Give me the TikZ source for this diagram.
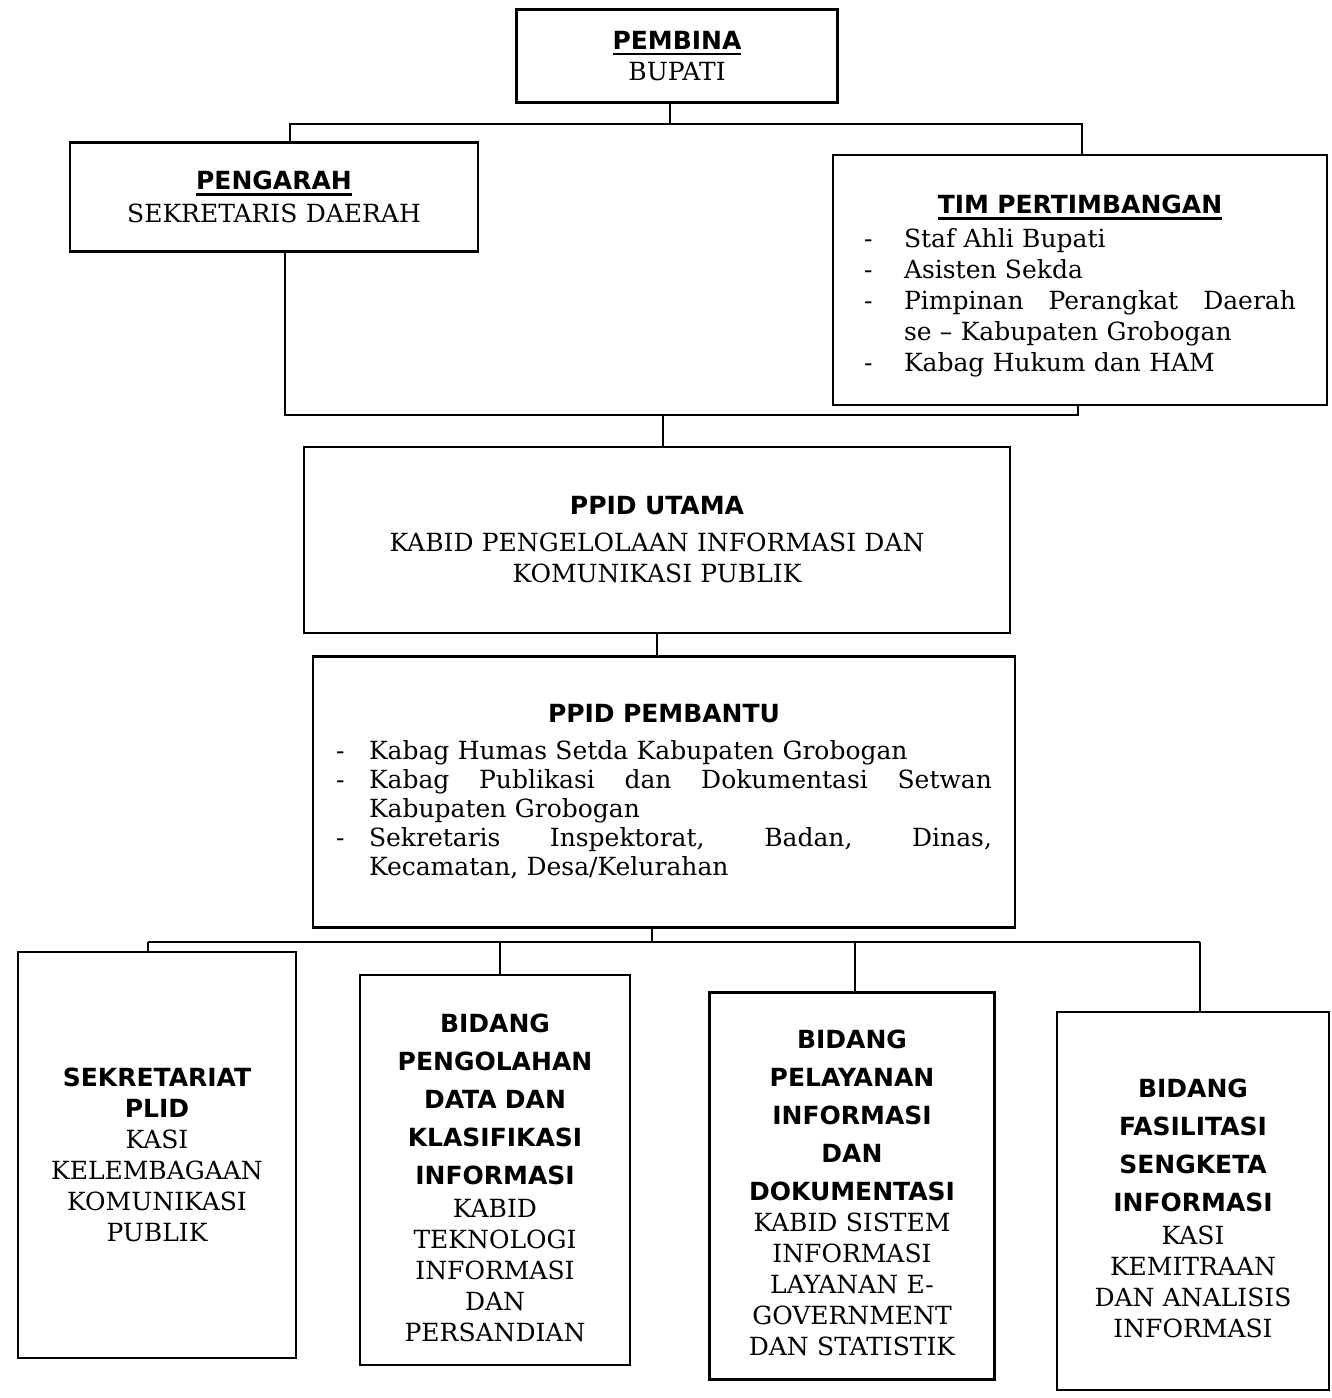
\documentclass[tikz,border=0pt]{standalone}
\usepackage{fontspec}
\setmainfont{DejaVu Serif}
\newfontfamily\hdfamily{DejaVu Sans}
\usetikzlibrary{positioning}

\newcommand{\bodyf}{\fontsize{25}{31}\selectfont}
\newcommand{\hdf}{\hdfamily\bfseries}
\newcommand{\hdl}[1]{{\hdf #1}}
\newcommand{\ulin}[1]{\setbox0=\hbox{#1}\rlap{\rule[-6pt]{\wd0}{2.8pt}}\box0}
\newcommand{\tmitem}[2][40pt]{\makebox[#1][l]{-}#2}
\newcommand{\tmcont}[2][40pt]{\hspace*{#1}#2}
\newcommand{\tmspread}[2]{\makebox[#1][s]{\spaceskip=.33em plus 1fil\xspaceskip=.33em plus 1fil #2}}

\tikzset{
  box/.style={draw, line width=2.5pt, inner sep=0pt, align=center, font=\bodyf},
  link/.style={line width=2pt}
}

\begin{document}
\begin{tikzpicture}[x=1pt, y=-1pt]
\useasboundingbox (0,0) rectangle (1332,1398);

% top levels
\node[box, minimum width=321pt, minimum height=93pt, text width=300pt] (pembina) at (677,56)
  {\hdl{\ulin{PEMBINA}}\\BUPATI};
\node[box, minimum width=408pt, minimum height=109pt, text width=390pt] (pengarah) at (274,197)
  {\hdl{\ulin{PENGARAH}}\\[2pt]SEKRETARIS DAERAH};
\node[box, align=left, minimum width=494pt, minimum height=250pt, text width=432pt] (tim) at (1080,280)
  {\rule{0pt}{31pt}\makebox[\hsize]{\hdl{\ulin{TIM PERTIMBANGAN}}}\\[3pt]
   \tmitem{Staf Ahli Bupati}\\
   \tmitem{Asisten Sekda}\\
   \tmitem{\tmspread{392pt}{Pimpinan Perangkat Daerah}}\\
   \tmcont{se – Kabupaten Grobogan}\\
   \tmitem{Kabag Hukum dan HAM}};

\node[box, minimum width=706pt, minimum height=186pt, text width=680pt] (utama) at (657,540)
  {\hdl{PPID UTAMA}\\[6pt]KABID PENGELOLAAN INFORMASI DAN\\KOMUNIKASI PUBLIK};
\node[box, align=left, minimum width=702pt, minimum height=271pt, text width=656pt,
      font=\fontsize{25}{29}\selectfont] (pembantu) at (664,792)
  {\makebox[\hsize]{\hdl{PPID PEMBANTU}}\\[8pt]
   \tmitem[33pt]{Kabag Humas Setda Kabupaten Grobogan}\\
   \tmitem[33pt]{\tmspread{623pt}{Kabag Publikasi dan Dokumentasi Setwan}}\\
   \tmcont[33pt]{Kabupaten Grobogan}\\
   \tmitem[33pt]{\tmspread{623pt}{Sekretaris Inspektorat, Badan, Dinas,}}\\
   \tmcont[33pt]{Kecamatan, Desa/Kelurahan}};

% bottom row
\node[box, minimum width=278pt, minimum height=406pt, text width=268pt] (sekret) at (157,1155)
  {\hdl{SEKRETARIAT}\\\hdl{PLID}\\KASI\\KELEMBAGAAN\\KOMUNIKASI\\PUBLIK};
\node[box, minimum width=270pt, minimum height=390pt, text width=260pt] (olah) at (495,1170)
  {\rule{0pt}{35pt}\hdl{BIDANG}\\[7pt]\hdl{PENGOLAHAN}\\[7pt]\hdl{DATA DAN}\\[7pt]\hdl{KLASIFIKASI}\\[7pt]\hdl{INFORMASI}\\[2pt]
   KABID\\TEKNOLOGI\\INFORMASI\\DAN\\PERSANDIAN};
\node[box, minimum width=285pt, minimum height=387pt, text width=275pt] (layan) at (852,1186)
  {\rule{0pt}{33pt}\hdl{BIDANG}\\[7pt]\hdl{PELAYANAN}\\[7pt]\hdl{INFORMASI}\\[7pt]\hdl{DAN}\\[7pt]\hdl{DOKUMENTASI}\\
   KABID SISTEM\\INFORMASI\\LAYANAN E-\\GOVERNMENT\\DAN STATISTIK};
\node[box, minimum width=272pt, minimum height=378pt, text width=262pt] (fasil) at (1193,1201)
  {\rule{0pt}{33pt}\hdl{BIDANG}\\[7pt]\hdl{FASILITASI}\\[7pt]\hdl{SENGKETA}\\[7pt]\hdl{INFORMASI}\\[2pt]
   KASI\\KEMITRAAN\\DAN ANALISIS\\INFORMASI};

% connectors
\coordinate (t0) at (670,124);
\coordinate (t1) at (290,124);
\coordinate (t2) at (1082,124);
\draw[link] (t0 |- pembina.south) -- (t0);
\draw[link] (t1 |- pengarah.north) -- (t1) -- (t2) -- (t2 |- tim.north);

\coordinate (m0) at (663,415);
\coordinate (m1) at (285,415);
\coordinate (m2) at (1078,415);
\draw[link] (m1 |- pengarah.south) -- (m1) -- (m2) -- (m2 |- tim.south);
\draw[link] (m0) -- (m0 |- utama.north);
\draw[link] (utama.south) -- (pembantu.north -| utama.south);

\coordinate (j0) at (652,942);
\coordinate (j1) at (148,942);
\coordinate (j2) at (500,942);
\coordinate (j3) at (855,942);
\coordinate (j4) at (1200,942);
\draw[link] (j0 |- pembantu.south) -- (j0);
\draw[link] (j1) -- (j4);
\foreach \j/\b in {j1/sekret,j2/olah,j3/layan,j4/fasil}
{
    \draw[link] (\j) -- (\j |- \b.north);
}
\end{tikzpicture}
\end{document}
